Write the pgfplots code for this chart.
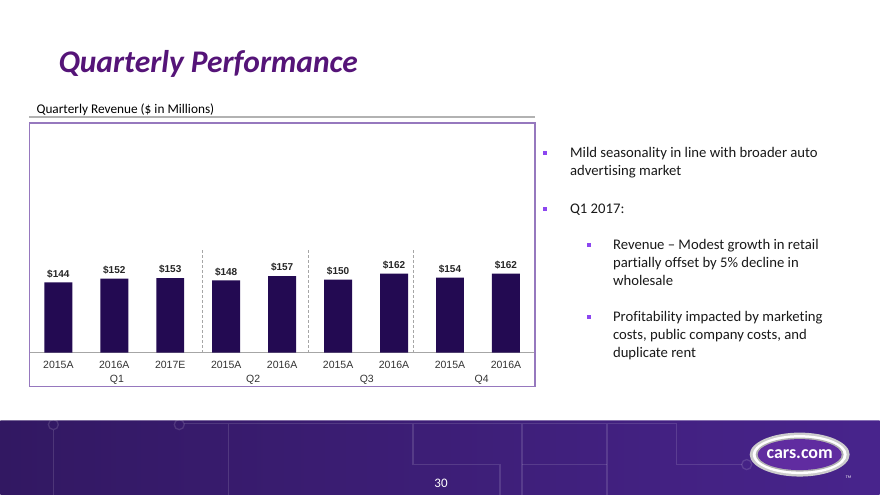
\documentclass[border=0pt]{standalone}
\usepackage{fontspec}
\setmainfont[Ligatures={TeX,NoCommon}]{Carlito}
\newfontfamily\arial{Liberation Sans}
\usepackage{pgfplots}
\pgfplotsset{compat=1.18}
\definecolor{barpurple}{RGB}{35,10,82}
\definecolor{titlepurple}{RGB}{85,20,120}
\definecolor{bulletpurple}{RGB}{140,70,240}
\definecolor{framepurple}{RGB}{150,120,190}
\definecolor{footleft}{RGB}{50,24,98}
\definecolor{footright}{RGB}{72,36,140}
\definecolor{logopurple}{RGB}{96,44,160}
\begin{document}
\begin{tikzpicture}[x=1pt,y=1pt]
% page
\fill[white] (0,0) rectangle (880,495);

% title
\node[anchor=base west, inner sep=0, text=titlepurple,
      font=\fontsize{31.5}{34}\selectfont\bfseries\itshape] at (58,422) {Quarterly Performance};

% chart heading and frame
\node[anchor=base west, inner sep=0, font=\fontsize{13.3}{15}\selectfont] at (36,381) {Quarterly Revenue (\$ in Millions)};
\draw[gray!60, line width=1.5pt] (29,378) -- (535,378);
\draw[framepurple, line width=1.3pt] (29,372) rectangle (535,108);

\begin{axis}[
    at={(30pt,142pt)}, anchor=south west,
    scale only axis,
    width=504pt, height=103pt,
    xmin=-0.5, xmax=8.5,
    ymin=0, ymax=211,
    axis y line=none,
    axis x line*=bottom,
    x axis line style={gray!70, line width=0.8pt, -},
    xtick={0,...,8},
    xticklabels={2015A,2016A,2017E,2015A,2016A,2015A,2016A,2015A,2016A},
    xticklabel style={font=\arial\fontsize{10.5}{12}\selectfont, text=black!80, yshift=-5pt},
    major tick length=0pt,
    extra x ticks={2.57,4.46,6.34},
    extra x tick labels={},
    extra x tick style={grid=major, major grid style={densely dashed, gray!70, line width=0.5pt}},
    ybar, bar width=28pt,
    nodes near coords={\$\pgfmathprintnumber{\pgfplotspointmeta}},
    nodes near coords style={font=\arial\bfseries\fontsize{10}{12}\selectfont, text=black!85, yshift=1pt},
    /pgf/number format/assume math mode=true,
    clip=false,
]
\addplot[fill=barpurple, draw=none] coordinates {
    (0,144) (1,152) (2,153) (3,148) (4,157) (5,150) (6,162) (7,154) (8,162)
};
\end{axis}

% quarter group labels
\begin{scope}[font=\arial\fontsize{10.5}{12}\selectfont, text=black!80]
\node at (116.7,115) {Q1};
\node at (253,115) {Q2};
\node at (366.7,115) {Q3};
\node at (481.7,115) {Q4};
\end{scope}

% bullets
\begin{scope}[font=\fontsize{14.7}{18}\selectfont, text=black!90]
\fill[bulletpurple] (543,340) rectangle (547,344);
\node[anchor=base west, inner sep=0] at (570,337) {Mild seasonality in line with broader auto};
\node[anchor=base west, inner sep=0] at (570,319) {advertising market};
\fill[bulletpurple] (543,284) rectangle (547,288);
\node[anchor=base west, inner sep=0] at (570,281) {Q1 2017:};
\fill[bulletpurple] (587,248) rectangle (591,252);
\node[anchor=base west, inner sep=0] at (613,245) {Revenue – Modest growth in retail};
\node[anchor=base west, inner sep=0] at (613,227) {partially offset by 5\% decline in};
\node[anchor=base west, inner sep=0] at (613,209) {wholesale};
\fill[bulletpurple] (587,176) rectangle (591,180);
\node[anchor=base west, inner sep=0] at (613,173) {Profitability impacted by marketing};
\node[anchor=base west, inner sep=0] at (613,155) {costs, public company costs, and};
\node[anchor=base west, inner sep=0] at (613,137) {duplicate rent};
\end{scope}

% footer band
\shade[left color=footleft, right color=footright] (0,0) rectangle (880,74);
\draw[white, opacity=0.35, line width=0.8pt] (0,74) -- (880,74);
\begin{scope}[white, opacity=0.13, line width=1.3pt]
\draw (184,71) -- (677,71);
\draw (228,71) -- (228,0);
\draw (413,71) -- (413,30) -- (500,30) -- (500,0);
\draw (522,71) -- (522,0);
\draw (522,30) -- (607,30);
\draw (607,71) -- (607,0);
\draw (677,71) -- (677,30) -- (742,30);
\draw (747,30) circle (5);
\draw (179,70) circle (5);
\draw (53,70) circle (5);
\draw (53,65) -- (53,0);
\end{scope}

% logo
\fill[gray!40] (800,40) ellipse (50 and 22);
\fill[white] (800,40) ellipse (47 and 19.5);
\fill[gray!60] (800,40) ellipse (44 and 17);
\fill[logopurple] (800,40) ellipse (42 and 15.5);
\node[text=white, font=\fontsize{18}{19}\selectfont\bfseries] at (800,40) {cars.com};
\node[text=white, font=\fontsize{4}{5}\selectfont] at (849,17) {TM};

% page number
\node[text=white!90, font=\fontsize{13}{14}\selectfont] at (441,11) {30};
\end{tikzpicture}
\end{document}
